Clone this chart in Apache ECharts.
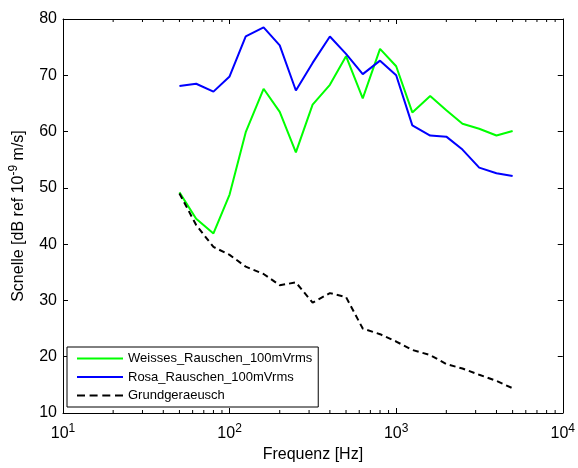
<!DOCTYPE html>
<html>
<head>
<meta charset="utf-8">
<script src="https://cdn.jsdelivr.net/npm/echarts@6/dist/echarts.min.js"></script>
<style>html,body{margin:0;padding:0;background:#fff}#c{width:578px;height:468px}</style>
</head>
<body>
<div id="c"></div>
<script>
const freqs = [50, 63, 80, 100, 125, 160, 200, 250, 315, 400, 500, 630, 800, 1000, 1250, 1600, 2000, 2500, 3150, 4000, 5000];
const weiss = [49.2, 44.5, 41.9, 48.8, 59.9, 67.6, 63.5, 56.3, 64.8, 68.3, 73.4, 65.9, 74.7, 71.6, 63.4, 66.3, 63.8, 61.4, 60.5, 59.3, 60.1];
const rosa = [68.1, 68.5, 67.1, 69.8, 76.9, 78.5, 75.3, 67.3, 72.2, 76.9, 73.8, 70.2, 72.6, 70.0, 61.1, 59.3, 59.1, 56.8, 53.6, 52.6, 52.1];
const grund = [49.0, 43.4, 39.5, 38.1, 36.0, 34.7, 32.7, 33.2, 29.6, 31.3, 30.6, 25.0, 24.0, 22.7, 21.2, 20.3, 18.7, 17.9, 16.8, 15.7, 14.4];
const seriesNames = ['Weisses_Rauschen_100mVrms', 'Rosa_Rauschen_100mVrms', 'Grundgeraeusch'];
const minorTicks = [20, 30, 40, 50, 60, 70, 80, 90, 200, 300, 400, 500, 600, 700, 800, 900, 2000, 3000, 4000, 5000, 6000, 7000, 8000, 9000];
const xMin = 10, xMax = 10000, yMin = 10, yMax = 80;

const chart = echarts.init(document.getElementById('c'), null, {renderer: 'canvas'});
const FONT = 'Liberation Sans, Arial, sans-serif';
const pair = a => freqs.map((f, i) => [f, a[i]]);

const xLabelFmt = v => '{b|10}{s|' + Math.round(Math.log10(v)) + '}';
const solidIcon = 'path://M0,0H46V2H0Z';
const dashIcon = 'path://M0,0H8V2H0Z M12.6,0H20.6V2H12.6Z M25.3,0H33.3V2H25.3Z M38,0H46V2H38Z';

chart.setOption({
  animation: false,
  backgroundColor: '#fff',
  grid: {left: 60, right: 13, top: 19, bottom: 51, containLabel: false},
  legend: {
    data: [
      {name: seriesNames[0], icon: solidIcon},
      {name: seriesNames[1], icon: solidIcon},
      {name: seriesNames[2], icon: dashIcon}
    ],
    orient: 'vertical',
    left: 67, top: 347,
    padding: [5, 6, 5, 10],
    itemWidth: 46, itemHeight: 14, itemGap: 5.5,
    symbolKeepAspect: true,
    borderColor: '#000', borderWidth: 1,
    backgroundColor: '#fff',
    textStyle: {fontFamily: FONT, fontSize: 13, color: '#000', padding: [0, 0, 0, 0]}
  },
  xAxis: [
    {
      type: 'log', logBase: 10, min: xMin, max: xMax, position: 'bottom',
      axisLine: {show: true, onZero: false, lineStyle: {color: '#000', width: 1}},
      axisTick: {show: true, inside: true, length: 5, lineStyle: {color: '#000'}},
      splitLine: {show: false},
      axisLabel: {
        margin: 10, formatter: xLabelFmt, color: '#000',
        rich: {
          b: {fontFamily: FONT, fontSize: 16, color: '#000'},
          s: {fontFamily: FONT, fontSize: 12, color: '#000', padding: [0, 0, 9, 0]}
        }
      },
      name: 'Frequenz [Hz]', nameLocation: 'middle', nameGap: 34,
      nameTextStyle: {fontFamily: FONT, fontSize: 16, color: '#000'}
    },
    {
      type: 'log', logBase: 10, min: xMin, max: xMax, position: 'top',
      axisLine: {show: true, onZero: false, lineStyle: {color: '#000', width: 1}},
      axisTick: {show: true, inside: true, length: 5, lineStyle: {color: '#000'}},
      splitLine: {show: false},
      axisLabel: {show: false}
    }
  ],
  yAxis: [
    {
      type: 'value', min: yMin, max: yMax, interval: 10, position: 'left',
      axisLine: {show: true, onZero: false, lineStyle: {color: '#000', width: 1}},
      axisTick: {show: true, inside: true, length: 5, lineStyle: {color: '#000'}},
      splitLine: {show: false},
      axisLabel: {margin: 6, color: '#000', fontFamily: FONT, fontSize: 16},
      name: '{t|Scnelle [dB ref 10}{s|-9}{t| m/s]}', nameLocation: 'middle', nameGap: 34,
      nameTextStyle: {
        color: '#000',
        rich: {
          t: {fontFamily: FONT, fontSize: 16, color: '#000'},
          s: {fontFamily: FONT, fontSize: 12, color: '#000', padding: [0, 0, 9, 0]}
        }
      }
    },
    {
      type: 'value', min: yMin, max: yMax, interval: 10, position: 'right',
      axisLine: {show: true, onZero: false, lineStyle: {color: '#000', width: 1}},
      axisTick: {show: true, inside: true, length: 5, lineStyle: {color: '#000'}},
      splitLine: {show: false},
      axisLabel: {show: false}
    }
  ],
  series: [
    {
      name: seriesNames[0], type: 'line', data: pair(weiss), symbol: 'none', showSymbol: false,
      lineStyle: {color: '#00ff00', width: 2}, itemStyle: {color: '#00ff00'}, z: 3
    },
    {
      name: seriesNames[1], type: 'line', data: pair(rosa), symbol: 'none', showSymbol: false,
      lineStyle: {color: '#0000ff', width: 2}, itemStyle: {color: '#0000ff'}, z: 3
    },
    {
      name: seriesNames[2], type: 'line', data: pair(grund), symbol: 'none', showSymbol: false,
      lineStyle: {color: '#000', width: 2, type: [6, 4]}, itemStyle: {color: '#000'}, z: 3
    },
    {
      type: 'custom', silent: true, z: 2,
      data: minorTicks.map(v => [v]),
      renderItem: function (params, api) {
        const x = api.value(0);
        const pb = api.coord([x, yMin]);
        const pt = api.coord([x, yMax]);
        return {
          type: 'group',
          children: [
            {type: 'line', shape: {x1: pb[0], y1: pb[1], x2: pb[0], y2: pb[1] - 3}, style: {stroke: '#000', lineWidth: 1}},
            {type: 'line', shape: {x1: pt[0], y1: pt[1], x2: pt[0], y2: pt[1] + 3}, style: {stroke: '#000', lineWidth: 1}}
          ]
        };
      }
    }
  ]
});
</script>
</body>
</html>
